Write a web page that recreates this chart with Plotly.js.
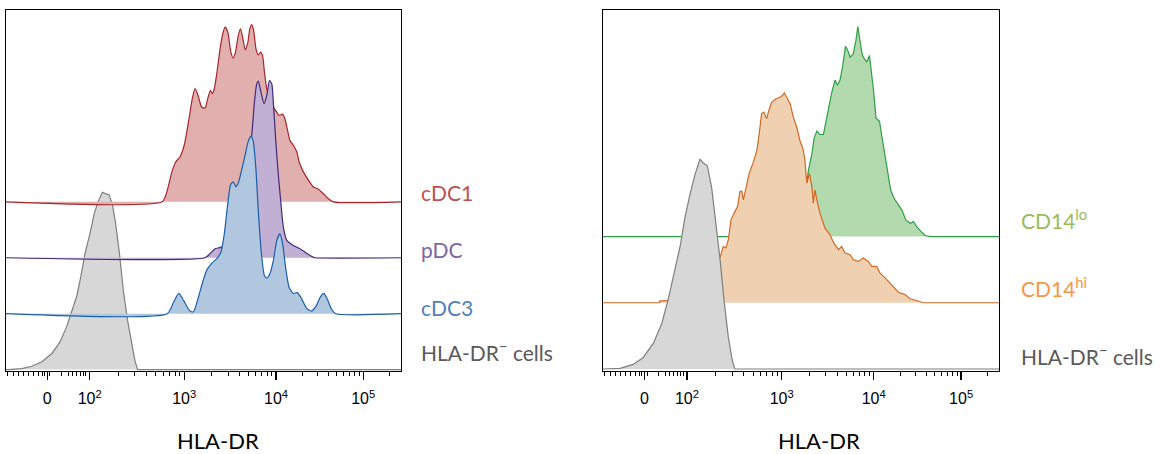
<!DOCTYPE html>
<html>
<head>
<meta charset="utf-8">
<script src="https://cdn.plot.ly/plotly-3.0.1.min.js"></script>
<style>
  html, body { margin: 0; padding: 0; background: #fff; }
  #chart { width: 1162px; height: 454px; }
</style>
</head>
<body>
<div id="chart"></div>
<script>
// HLA-DR histograms (biexponential display, channel 0–1024); heights are % of mode.

// Axis tick channels and labels
const tickChannels = [107, 217, 462, 700, 926];
const tickLabels = ['0', '10<sup>2</sup>', '10<sup>3</sup>', '10<sup>4</sup>', '10<sup>5</sup>'];
const linearRegionTicks = [3, 19, 32, 45, 58, 71, 84, 94, 100, 114, 144, 161, 173, 183, 192, 200, 207];

// Left panel: dendritic cell subsets
const negLeftX   = [6, 41, 67, 93, 119, 140, 157, 170, 183, 194, 205, 218, 229, 239, 250, 257, 267, 276, 284, 294, 304, 315, 326, 334, 341];
const negLeftPct = [0, 0.6, 1.9, 4.4, 9.1, 15.6, 24.1, 32.6, 41.1, 52.4, 65.7, 77, 88.3, 94.9, 100, 99.3, 98.7, 93, 82.7, 65.7, 44.9, 27.9, 14.7, 5.3, 0];

const cdc1X   = [405, 417, 430, 440, 451, 462, 473, 483, 490, 498, 507, 516, 523, 530, 535, 540, 547, 555, 562, 568, 575, 583, 589, 595, 602, 608, 615, 620, 627, 632, 637, 642, 648, 654, 660, 665, 670, 676, 684, 693, 702, 708, 717, 723, 730, 736, 745, 754, 760, 771, 784, 797, 810, 822, 835, 848];
const cdc1Pct = [0, 5.6, 16.9, 22.5, 25.3, 31.9, 45, 58.2, 63.8, 60, 53.5, 52.9, 58.2, 62.9, 61, 63.8, 73.2, 86.3, 94.8, 98.5, 95.7, 84.4, 81, 84.4, 93.8, 97.6, 91, 85.8, 90, 97.6, 100, 96.6, 86.3, 82.9, 84.4, 82.6, 73.2, 63.8, 58.2, 53.5, 50.6, 48.8, 49.5, 46.9, 40.3, 34.7, 31.9, 28.1, 22.5, 16.9, 12.2, 8.4, 7.1, 4.7, 1.9, 0];

const pdcX   = [516, 529, 542, 559, 581, 601, 617, 627, 637, 644, 650, 654, 661, 669, 676, 683, 689, 693, 699, 705, 712, 719, 728, 745, 762, 779, 797, 801];
const pdcPct = [0, 2.3, 5.1, 6, 10.9, 23.9, 40.8, 54.9, 69, 87.8, 98.1, 99.7, 93.4, 86.9, 91.5, 100, 98.1, 87.8, 67.1, 49.2, 32.3, 17.3, 9.8, 6.9, 5.1, 2.6, 0.3, 0];

const cdc3X   = [418, 434, 448, 461, 477, 486, 496, 507, 520, 533, 546, 557, 566, 575, 582, 589, 596, 602, 611, 620, 628, 635, 641, 648, 655, 663, 670, 676, 684, 693, 702, 710, 717, 726, 734, 745, 755, 767, 779, 792, 804, 814, 824, 833, 844, 855];
const cdc3Pct = [0, 6.3, 11.4, 7.2, 1.5, 1.1, 7.2, 15.7, 24.3, 28.4, 30.9, 34.7, 45.1, 62.2, 72.6, 74.4, 71.6, 73.5, 81.1, 89.6, 97.2, 100, 97.2, 81.1, 54.5, 31.8, 21.4, 20.1, 22.4, 29.9, 41.3, 45.1, 39.4, 24.3, 14.8, 11.4, 11.9, 8.2, 3.1, 1.5, 4.4, 9.1, 11.4, 8.2, 2.5, 0];

// Right panel: monocyte subsets
const negRightX   = [10, 44, 78, 104, 130, 152, 169, 186, 199, 212, 225, 238, 251, 259, 270, 281, 292, 303, 313, 324, 334, 341];
const negRightPct = [0, 0.3, 2.2, 5.5, 12.2, 21.7, 33.5, 46.9, 58, 72.2, 83.3, 92.7, 100, 98.2, 96.7, 86.4, 69.1, 51.7, 32.7, 15.3, 4.3, 0];

const cd14hiX   = [146, 147, 160, 199, 238, 272, 303, 311, 318, 324, 331, 341, 348, 354, 359, 363, 370, 378, 389, 398, 404, 410, 416, 423, 429, 436, 447, 458, 464, 469, 475, 484, 492, 501, 509, 518, 522, 527, 534, 540, 544, 548, 553, 561, 574, 587, 597, 609, 617, 626, 639, 647, 660, 673, 686, 695, 708, 716, 734, 751, 764, 781, 794, 811, 828];
const cd14hiPct = [0, 0.9, 0.9, 2.5, 6.3, 12, 21.8, 26.8, 26.1, 30, 39.5, 43.4, 45.8, 52.9, 53.2, 49, 55.3, 61.6, 67.1, 72.7, 80.6, 90, 90.8, 87.7, 91.6, 95.5, 97.2, 97.9, 98.7, 100, 97.9, 94.8, 88.4, 83.7, 77.4, 72.7, 67.9, 56.9, 61.6, 55.3, 47.4, 53.7, 49, 42.7, 35.5, 32.4, 28.4, 25.3, 26.8, 23.7, 22.9, 20.5, 19.7, 21.3, 19.7, 17.3, 17.3, 14.2, 11, 7.8, 5, 3.9, 1.9, 1.1, 0];

const cd14loX   = [471, 497, 515, 527, 531, 540, 546, 553, 561, 570, 577, 583, 591, 600, 606, 613, 620, 627, 633, 639, 647, 654, 659, 665, 671, 676, 682, 689, 693, 699, 706, 715, 721, 729, 738, 744, 753, 764, 773, 783, 794, 803, 811, 824, 833, 846];
const cd14loPct = [0, 5.5, 14.9, 25.1, 31.4, 39.2, 47, 50.2, 48.6, 48.6, 54.9, 61.1, 68.2, 74.5, 72.1, 74.5, 81.5, 90.6, 88.6, 85.4, 87, 93.3, 100, 92.5, 86.2, 84.6, 83.1, 86.2, 80.7, 70.5, 56.4, 54.9, 47.8, 39.2, 29.8, 22, 18.1, 14.9, 12.6, 7.9, 6.3, 7.1, 4.7, 2.1, 0.5, 0];

// Offset-histogram geometry: each track is lifted by 1 unit, mode height in track units
const X_MAX = 1024;
const MODE_HEIGHT = 3.17;

// Minor ticks: log spacing within each decade plus the linear region around zero
function minorTicks() {
  const out = linearRegionTicks.slice();
  const dec = tickChannels.slice(1);
  for (let i = 0; i < dec.length; i++) {
    const span = i < dec.length - 1 ? dec[i + 1] - dec[i] : dec[i] - dec[i - 1];
    for (let k = 2; k <= 9; k++) {
      const c = dec[i] + Math.log10(k) * span;
      if (c < X_MAX) out.push(c);
    }
  }
  return out;
}

function track(xs, pct, offset, lineColor, fillColor, xa, ya, smooth) {
  const x = [0].concat(xs, [X_MAX]);
  const y = [offset].concat(pct.map(p => offset + p * MODE_HEIGHT / 100), [offset]);
  return {
    type: 'scatter', mode: 'lines', x: x, y: y, xaxis: xa, yaxis: ya,
    fill: 'toself', fillcolor: fillColor,
    line: { color: lineColor, width: 1.2, shape: smooth ? 'spline' : 'linear', smoothing: 0.6 },
    hoverinfo: 'skip', showlegend: false
  };
}

const traces = [
  track(negLeftX, negLeftPct, 0, '#7f7f7f', '#d7d7d7', 'x', 'y', false),
  track(cdc1X, cdc1Pct, 3, '#a6262c', '#e0afae', 'x', 'y', true),
  track(pdcX, pdcPct, 2, '#3f2a7a', '#c1afd4', 'x', 'y', true),
  track(cdc3X, cdc3Pct, 1, '#1a5ea8', '#b0c7df', 'x', 'y', true),
  track(cd14loX, cd14loPct, 2, '#2e9e44', '#b2daae', 'x2', 'y2', false),
  track(cd14hiX, cd14hiPct, 1, '#cf6a26', '#efd0b1', 'x2', 'y2', false),
  track(negRightX, negRightPct, 0, '#7f7f7f', '#d7d7d7', 'x2', 'y2', false)
];

const W = 1162, H = 454;
const PLOT_TOP = 10, PLOT_BOTTOM = 371;
const plotH = PLOT_BOTTOM - PLOT_TOP;
const px = v => v / W;
const py = v => (PLOT_BOTTOM - v) / plotH;

function xAxis(domain, anchor) {
  return {
    domain: domain, anchor: anchor, range: [0, X_MAX], fixedrange: true,
    showgrid: false, zeroline: false,
    showline: true, mirror: true, linecolor: '#000', linewidth: 1.2,
    tickmode: 'array', tickvals: tickChannels, ticktext: tickLabels,
    ticks: 'outside', ticklen: 8, tickwidth: 1.2, tickcolor: '#000',
    ticklabelstandoff: 5,
    tickfont: { family: 'Liberation Sans, Arial, sans-serif', size: 16, color: '#000' },
    minor: { tickmode: 'array', tickvals: minorTicks(), ticks: 'outside', ticklen: 4, tickwidth: 1, tickcolor: '#000', showgrid: false }
  };
}
function yAxis(range, anchor) {
  return {
    domain: [0, 1], anchor: anchor, range: range, fixedrange: true,
    showgrid: false, zeroline: false, showticklabels: false, ticks: '',
    showline: true, mirror: true, linecolor: '#000', linewidth: 1.2
  };
}

const labelFont = (c) => ({ family: 'Lato, Noto Sans, sans-serif', size: 21, color: c });
function label(text, x, y, color) {
  return { text: text, xref: 'paper', yref: 'paper', x: px(x), y: py(y),
           xanchor: 'left', yanchor: 'middle', showarrow: false, font: labelFont(color) };
}
function axisTitle(x) {
  return { text: 'HLA-DR', xref: 'paper', yref: 'paper', x: px(x), y: py(440),
           xanchor: 'center', yanchor: 'middle', showarrow: false,
           font: { family: 'Lato, Noto Sans, sans-serif', size: 22, color: '#000' } };
}

const layout = {
  width: W, height: H,
  margin: { l: 0, r: 0, t: PLOT_TOP, b: H - PLOT_BOTTOM, pad: 0 },
  paper_bgcolor: '#fff', plot_bgcolor: '#fff',
  showlegend: false,
  xaxis: xAxis([px(6), px(401)], 'y'),
  yaxis: yAxis([-0.025, 6.43], 'x'),
  xaxis2: xAxis([px(603), px(999)], 'y2'),
  yaxis2: yAxis([-0.03, 5.42], 'x2'),
  annotations: [
    label('cDC1', 419, 192, '#c0504d'),
    label('pDC', 419, 249, '#8064a2'),
    label('cDC3', 419, 307, '#4f81bd'),
    label('HLA-DR<sup>−</sup> cells', 419, 351, '#595959'),
    label('CD14<sup>lo</sup>', 1019, 219, '#9bbb59'),
    label('CD14<sup>hi</sup>', 1019, 287, '#f79646'),
    label('HLA-DR<sup>−</sup> cells', 1019, 355, '#595959'),
    axisTitle(218),
    axisTitle(819)
  ]
};

Plotly.newPlot('chart', traces, layout, { staticPlot: true, displayModeBar: false });
</script>
</body>
</html>
